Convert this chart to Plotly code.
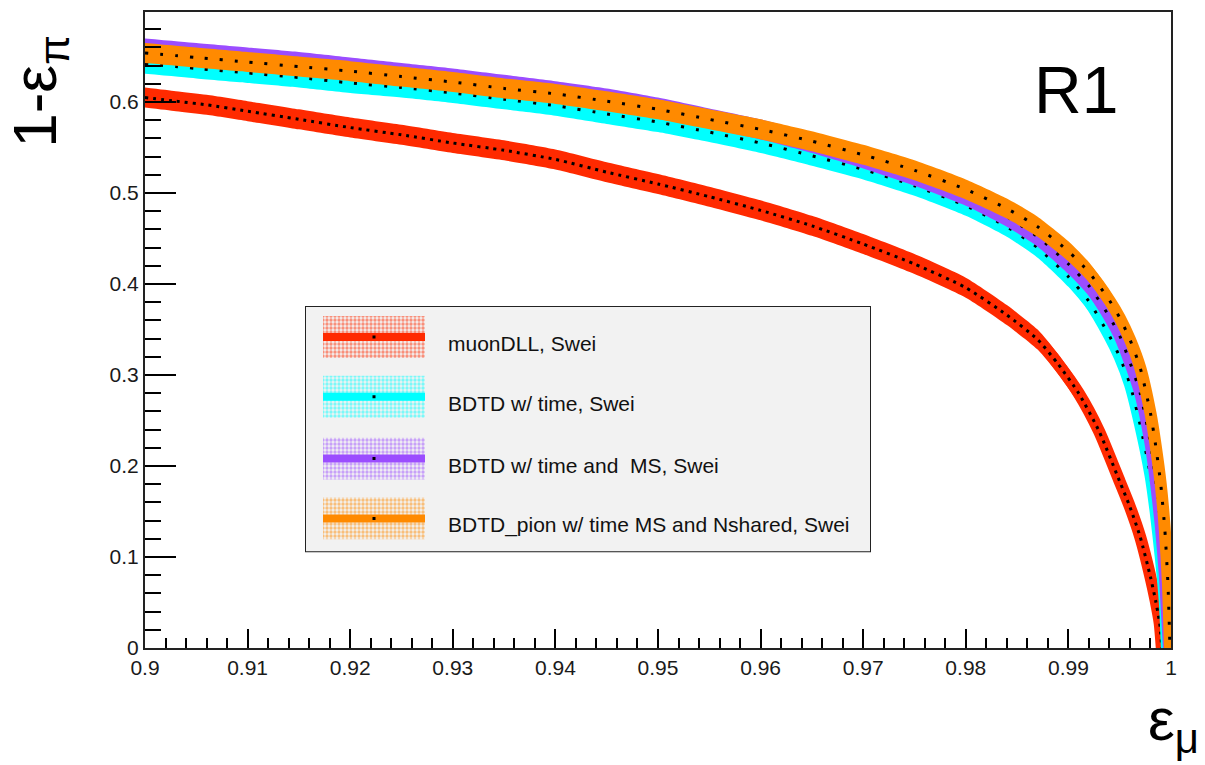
import plotly.graph_objects as go

# ---------------- data ----------------
series_names = ["muonDLL, Swei", "BDTD w/ time, Swei",
                "BDTD w/ time and\u00a0 MS, Swei",
                "BDTD_pion w/ time MS and Nshared, Swei"]

red_x = [0.900, 0.903, 0.906, 0.910, 0.915, 0.920, 0.925, 0.930, 0.935, 0.940,
         0.945, 0.950, 0.955, 0.960, 0.965, 0.970, 0.975, 0.980, 0.984, 0.987,
         0.989, 0.991, 0.993, 0.995, 0.996, 0.997, 0.998, 0.9985, 0.9989, 0.9991]
red_y = [0.605, 0.601, 0.597, 0.590, 0.581, 0.572, 0.564, 0.555, 0.547, 0.537,
         0.523, 0.510, 0.496, 0.481, 0.464, 0.444, 0.422, 0.396, 0.366, 0.339,
         0.312, 0.280, 0.238, 0.183, 0.155, 0.122, 0.078, 0.052, 0.027, 0.0]

cyan_x = [0.900, 0.905, 0.910, 0.915, 0.920, 0.925, 0.930, 0.935, 0.940, 0.945,
          0.950, 0.955, 0.960, 0.965, 0.970, 0.975, 0.980, 0.984, 0.987, 0.990,
          0.992, 0.994, 0.995, 0.996, 0.997, 0.998, 0.9985, 0.999, 0.9994, 0.9996]
cyan_y = [0.642, 0.637, 0.632, 0.627, 0.621, 0.616, 0.610, 0.603, 0.596, 0.587,
          0.578, 0.567, 0.555, 0.541, 0.526, 0.508, 0.486, 0.463, 0.440, 0.408,
          0.381, 0.343, 0.320, 0.290, 0.245, 0.190, 0.150, 0.100, 0.050, 0.0]

purple_x = [0.900, 0.905, 0.910, 0.915, 0.920, 0.925, 0.930, 0.935, 0.940, 0.945,
            0.950, 0.955, 0.960, 0.965, 0.970, 0.975, 0.980, 0.984, 0.987, 0.990,
            0.992, 0.994, 0.995, 0.996, 0.997, 0.998, 0.9985, 0.999, 0.9994, 0.9996, 0.9998]
purple_y = [0.659, 0.654, 0.649, 0.644, 0.638, 0.632, 0.626, 0.619, 0.612, 0.604,
            0.594, 0.582, 0.570, 0.555, 0.538, 0.519, 0.497, 0.474, 0.452, 0.422,
            0.398, 0.364, 0.343, 0.314, 0.280, 0.225, 0.185, 0.135, 0.080, 0.040, 0.0]

orange_x = [0.900, 0.905, 0.910, 0.915, 0.920, 0.925, 0.930, 0.935, 0.940, 0.945,
            0.950, 0.955, 0.960, 0.965, 0.970, 0.975, 0.980, 0.984, 0.987, 0.990,
            0.992, 0.994, 0.995, 0.996, 0.997, 0.998, 0.9985, 0.999, 0.9994, 0.9997, 0.9999]
orange_y = [0.654, 0.649, 0.644, 0.639, 0.634, 0.628, 0.622, 0.615, 0.609, 0.601,
            0.592, 0.581, 0.570, 0.557, 0.542, 0.525, 0.504, 0.483, 0.463, 0.436,
            0.413, 0.382, 0.363, 0.339, 0.308, 0.258, 0.223, 0.180, 0.130, 0.071, 0.0]

x_tick_vals = [0.90, 0.91, 0.92, 0.93, 0.94, 0.95, 0.96, 0.97, 0.98, 0.99, 1.00]
x_tick_text = ["0.9", "0.91", "0.92", "0.93", "0.94", "0.95", "0.96", "0.97", "0.98", "0.99", "1"]
y_tick_vals = [0.0, 0.1, 0.2, 0.3, 0.4, 0.5, 0.6]
y_tick_text = ["0", "0.1", "0.2", "0.3", "0.4", "0.5", "0.6"]

# ---------------- styles ----------------
colors = ["#ff2a00", "#00ffff", "#9b4dff", "#ff8a00"]
dashes = ["3px,5px", "3px,12px", "3px,12px", "3px,12px"]
BAND = 0.011          # half height of the error band
FONT = "Liberation Sans, Arial, Helvetica, sans-serif"

series = [(red_x, red_y), (cyan_x, cyan_y), (purple_x, purple_y), (orange_x, orange_y)]

fig = go.Figure()

for (xs, ys), col, dsh, name in zip(series, colors, dashes, series_names):
    upper = [v + BAND for v in ys]
    lower = [v - BAND for v in ys]
    fig.add_trace(go.Scatter(x=xs + xs[::-1], y=upper + lower[::-1], fill="toself",
                             fillcolor=col, mode="lines",
                             line=dict(width=0, color=col, shape="spline", smoothing=0.6),
                             hoverinfo="skip", showlegend=False))
    fig.add_trace(go.Scatter(x=xs, y=ys, mode="lines",
                             line=dict(color=col, width=12, shape="spline", smoothing=0.6),
                             showlegend=False, name=name))
    fig.add_trace(go.Scatter(x=xs, y=ys, mode="lines",
                             line=dict(color="black", width=3, dash=dsh, shape="spline", smoothing=0.6),
                             showlegend=False, hoverinfo="skip"))

# ---------------- custom legend (ROOT-like) ----------------
LEG_W, LEG_H = 566, 247            # legend box size in px
leg_rows = [31, 91, 153, 213]      # row centres (px from top of box)
sw_x0, sw_x1, sw_half = 18, 120, 21
txt_x, txt_dy = 141, 7

for row, col, name in zip(leg_rows, colors, series_names):
    fig.add_trace(go.Scatter(
        x=[sw_x0, sw_x1, sw_x1, sw_x0, sw_x0],
        y=[row - sw_half, row - sw_half, row + sw_half, row + sw_half, row - sw_half],
        xaxis="x2", yaxis="y2", mode="lines", line=dict(width=0, color=col),
        fill="toself", fillcolor="rgba(0,0,0,0)",
        fillpattern=dict(shape=".", fgcolor=col, bgcolor="rgba(0,0,0,0)", size=4, solidity=0.55),
        showlegend=False, hoverinfo="skip"))
    fig.add_trace(go.Scatter(x=[sw_x0, sw_x1], y=[row, row], xaxis="x2", yaxis="y2",
                             mode="lines", line=dict(color=col, width=8),
                             showlegend=False, hoverinfo="skip"))
    fig.add_trace(go.Scatter(x=[(sw_x0 + sw_x1) / 2], y=[row], xaxis="x2", yaxis="y2",
                             mode="markers", marker=dict(color="black", size=3, symbol="square"),
                             showlegend=False, hoverinfo="skip"))
    fig.add_annotation(x=txt_x, y=row + txt_dy, xref="x2", yref="y2", text=name,
                       showarrow=False, xanchor="left", yanchor="middle",
                       font=dict(family=FONT, size=21, color="#111"))

fig.add_shape(type="rect", xref="x2", yref="y2", x0=0, x1=LEG_W, y0=0, y1=LEG_H,
              fillcolor="#f2f2f2", line=dict(color="#222", width=2), layer="below")

# ---------------- text ----------------
fig.add_annotation(x=0.907, y=0.878, xref="paper", yref="paper", text="R1", showarrow=False,
                   xanchor="center", yanchor="middle", font=dict(family=FONT, size=66, color="black"))
fig.add_annotation(x=-0.104, y=0.875, xref="paper", yref="paper", text="1-ε<sub>π</sub>",
                   textangle=-90, showarrow=False, xanchor="center", yanchor="middle",
                   font=dict(family=FONT, size=62, color="black"))
fig.add_annotation(x=1.0285, y=-0.1815, xref="paper", yref="paper", text="ε<sub>μ</sub>",
                   showarrow=False, xanchor="right", yanchor="bottom", borderpad=0,
                   font=dict(family=FONT, size=60, color="black"))

# ---------------- layout ----------------
W, H = 1205, 765
ML, MR, MT, MB = 145, 34, 10, 117
plot_w, plot_h = W - ML - MR, H - MT - MB
leg_left, leg_top = 305, 305
x2_dom = [(leg_left - ML) / plot_w, (leg_left + LEG_W - ML) / plot_w]
y2_dom = [(H - MB - (leg_top + LEG_H)) / plot_h, (H - MB - leg_top) / plot_h]

tickfont = dict(family=FONT, size=21, color="#1a1a1a")
fig.update_layout(
    width=W, height=H, margin=dict(l=ML, r=MR, t=MT, b=MB),
    paper_bgcolor="white", plot_bgcolor="white", showlegend=False,
    xaxis=dict(range=[0.9, 1.0], tickmode="array", tickvals=x_tick_vals, ticktext=x_tick_text,
               ticks="inside", ticklen=19, tickwidth=1.5, tickcolor="black",
               minor=dict(tickmode="linear", tick0=0.9, dtick=0.002, ticks="inside",
                          ticklen=10, tickwidth=1.5, tickcolor="black", showgrid=False),
               showgrid=False, zeroline=False, showline=True, linecolor="#222", linewidth=2,
               mirror=True, tickfont=tickfont),
    yaxis=dict(range=[0, 0.699], tickmode="array", tickvals=y_tick_vals, ticktext=y_tick_text,
               ticks="inside", ticklen=31, tickwidth=1.5, tickcolor="black",
               minor=dict(tickmode="linear", tick0=0, dtick=0.02, ticks="inside",
                          ticklen=16, tickwidth=1.5, tickcolor="black", showgrid=False),
               showgrid=False, zeroline=False, showline=True, linecolor="#222", linewidth=2,
               mirror=True, tickfont=tickfont),
    xaxis2=dict(domain=x2_dom, range=[0, LEG_W], visible=False, anchor="y2", fixedrange=True),
    yaxis2=dict(domain=y2_dom, range=[LEG_H, 0], visible=False, anchor="x2", fixedrange=True),
)

fig.write_html("out.html")
